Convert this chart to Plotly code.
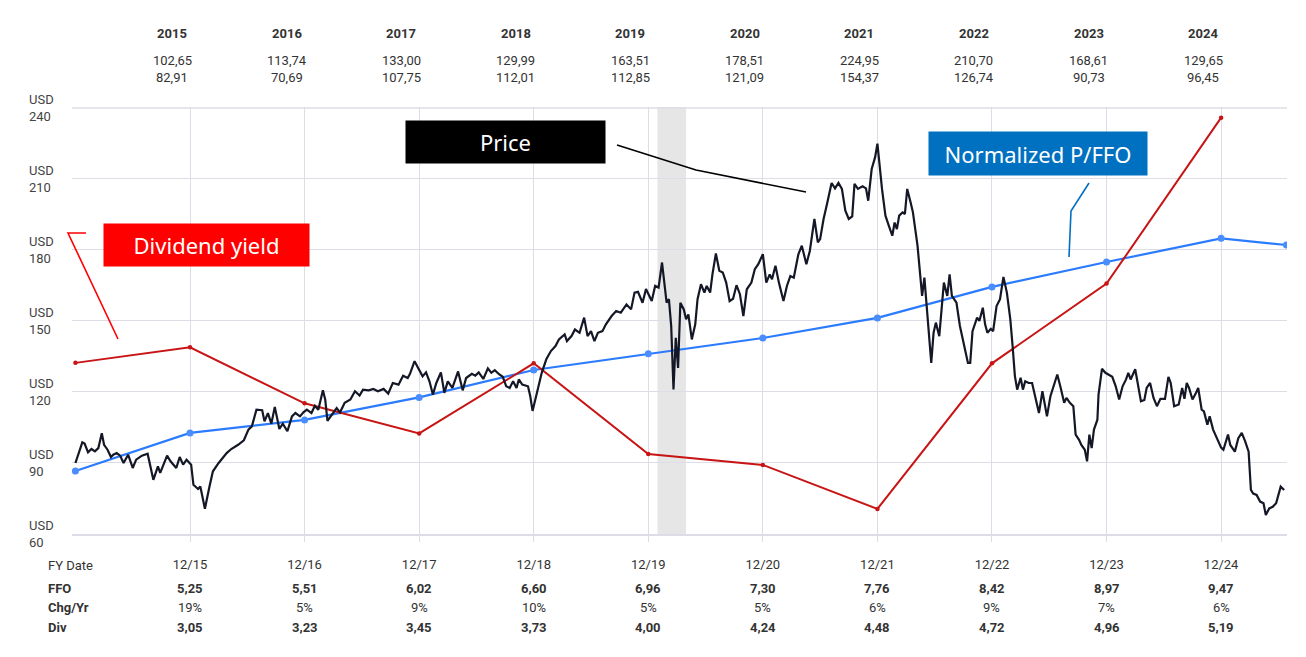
import plotly.graph_objects as go

# fiscal year columns
years = ['2015', '2016', '2017', '2018', '2019', '2020', '2021', '2022', '2023', '2024']
fy_dates = ['12/15', '12/16', '12/17', '12/18', '12/19', '12/20', '12/21', '12/22', '12/23', '12/24']
fy_end = [2016, 2017, 2018, 2019, 2020, 2021, 2022, 2023, 2024, 2025]
year_high = ['102,65', '113,74', '133,00', '129,99', '163,51', '178,51', '224,95', '210,70', '168,61', '129,65']
year_low = ['82,91', '70,69', '107,75', '112,01', '112,85', '121,09', '154,37', '126,74', '90,73', '96,45']
ffo = ['5,25', '5,51', '6,02', '6,60', '6,96', '7,30', '7,76', '8,42', '8,97', '9,47']
chg_yr = ['19%', '5%', '9%', '10%', '5%', '5%', '6%', '9%', '7%', '6%']
div = ['3,05', '3,23', '3,45', '3,73', '4,00', '4,24', '4,48', '4,72', '4,96', '5,19']

# normalized P/FFO line (USD)
pffo_t = [2015, 2016, 2017, 2018, 2019, 2020, 2021, 2022, 2023, 2024, 2025, 2025.57]
pffo_v = [86.6, 102.7, 108.2, 117.7, 129.3, 136.1, 142.8, 151.3, 164.4, 174.9, 184.9, 182.1]

# dividend yield line (scaled to price axis)
dy_t = [2015, 2016, 2017, 2018, 2019, 2020, 2021, 2022, 2023, 2024, 2025]
dy_v = [132.3, 138.9, 115.2, 102.5, 132.1, 93.8, 89.2, 70.6, 132.1, 165.8, 235.9]

# shaded recession period
recession = [2020.08, 2020.33]

# share price (decimal year, USD)
price = [
    (2015.00, 90.0), (2015.03, 94.2), (2015.06, 98.7), (2015.08, 98.2), (2015.11, 94.5),
    (2015.14, 95.9), (2015.17, 94.9), (2015.20, 96.3), (2015.23, 102.6), (2015.25, 97.7),
    (2015.28, 95.6), (2015.31, 92.5), (2015.33, 93.5), (2015.36, 94.2), (2015.39, 93.1),
    (2015.42, 90.0), (2015.46, 93.5), (2015.50, 87.9), (2015.53, 91.4), (2015.58, 93.1),
    (2015.63, 93.9), (2015.68, 82.9), (2015.72, 88.6), (2015.74, 85.8), (2015.80, 93.1),
    (2015.83, 90.7), (2015.88, 87.9), (2015.91, 92.5), (2015.94, 89.3), (2015.97, 91.4),
    (2016.01, 89.3), (2016.03, 80.8), (2016.07, 79.0), (2016.09, 80.1), (2016.13, 70.7),
    (2016.17, 80.1), (2016.20, 86.5), (2016.25, 90.0), (2016.29, 92.5), (2016.32, 94.2),
    (2016.36, 95.9), (2016.42, 97.7), (2016.47, 99.6), (2016.51, 104.1), (2016.54, 105.5),
    (2016.58, 112.5), (2016.63, 112.3), (2016.65, 107.6), (2016.68, 111.1), (2016.71, 106.6),
    (2016.74, 113.7), (2016.78, 104.4), (2016.81, 106.6), (2016.85, 103.4), (2016.89, 109.7),
    (2016.92, 111.1), (2016.96, 109.7), (2016.99, 111.4), (2017.02, 112.5), (2017.06, 111.1),
    (2017.09, 114.2), (2017.12, 112.5), (2017.16, 120.7), (2017.18, 116.8), (2017.20, 107.8),
    (2017.24, 110.4), (2017.28, 113.2), (2017.31, 111.4), (2017.35, 115.4), (2017.40, 116.8),
    (2017.44, 120.3), (2017.48, 118.5), (2017.51, 121.0), (2017.56, 120.7), (2017.60, 121.3),
    (2017.64, 120.3), (2017.69, 121.3), (2017.73, 119.3), (2017.77, 123.8), (2017.82, 123.1),
    (2017.86, 126.9), (2017.90, 125.9), (2017.92, 127.7), (2017.96, 133.0), (2017.99, 130.1),
    (2018.03, 126.6), (2018.06, 128.3), (2018.09, 124.5), (2018.12, 118.9), (2018.15, 123.8),
    (2018.19, 128.3), (2018.22, 119.6), (2018.25, 124.5), (2018.29, 121.7), (2018.34, 128.7),
    (2018.38, 120.7), (2018.41, 125.9), (2018.46, 127.7), (2018.49, 126.9), (2018.52, 128.3),
    (2018.56, 125.5), (2018.60, 130.0), (2018.63, 128.1), (2018.66, 129.2), (2018.70, 127.4),
    (2018.73, 126.4), (2018.76, 122.4), (2018.79, 121.7), (2018.82, 124.5), (2018.85, 121.7),
    (2018.87, 125.3), (2018.90, 123.1), (2018.95, 122.4), (2018.97, 118.2), (2018.99, 112.0),
    (2019.03, 120.0), (2019.07, 128.1), (2019.11, 133.8), (2019.15, 137.3), (2019.19, 139.4),
    (2019.22, 142.2), (2019.27, 144.3), (2019.29, 141.5), (2019.33, 143.6), (2019.36, 146.4),
    (2019.40, 145.0), (2019.44, 151.4), (2019.47, 143.6), (2019.50, 145.7), (2019.53, 141.5),
    (2019.56, 145.0), (2019.60, 145.7), (2019.63, 148.6), (2019.68, 152.1), (2019.72, 154.2),
    (2019.76, 153.5), (2019.81, 157.0), (2019.85, 154.9), (2019.88, 162.0), (2019.91, 162.3),
    (2019.95, 157.7), (2019.98, 163.5), (2020.03, 158.4), (2020.06, 164.8), (2020.09, 164.1),
    (2020.12, 174.7), (2020.16, 157.7), (2020.18, 159.2), (2020.20, 147.9), (2020.22, 121.1),
    (2020.24, 142.9), (2020.26, 130.2), (2020.28, 157.7), (2020.31, 154.9), (2020.33, 150.7),
    (2020.35, 152.8), (2020.38, 142.2), (2020.41, 148.6), (2020.43, 159.2), (2020.46, 165.5),
    (2020.49, 162.0), (2020.51, 164.8), (2020.54, 162.0), (2020.56, 169.7), (2020.59, 178.5),
    (2020.62, 171.2), (2020.65, 170.5), (2020.68, 166.2), (2020.71, 158.4), (2020.74, 159.4),
    (2020.77, 165.1), (2020.80, 161.3), (2020.83, 152.1), (2020.86, 163.4), (2020.90, 166.2),
    (2020.93, 171.9), (2020.96, 174.0), (2021.00, 178.2), (2021.03, 166.2), (2021.06, 169.7),
    (2021.08, 167.6), (2021.11, 173.3), (2021.14, 166.2), (2021.18, 158.4), (2021.21, 164.8),
    (2021.24, 169.0), (2021.27, 168.3), (2021.31, 178.2), (2021.34, 181.8), (2021.38, 174.0),
    (2021.41, 179.6), (2021.45, 193.1), (2021.48, 183.2), (2021.50, 184.6), (2021.53, 193.1),
    (2021.56, 199.4), (2021.60, 208.3), (2021.63, 206.0), (2021.66, 208.3), (2021.69, 205.8),
    (2021.72, 196.6), (2021.75, 193.1), (2021.78, 194.2), (2021.80, 207.9), (2021.83, 205.8),
    (2021.87, 206.9), (2021.90, 206.0), (2021.92, 200.8), (2021.95, 214.2), (2021.98, 219.2),
    (2022.00, 224.9), (2022.04, 205.8), (2022.07, 194.5), (2022.10, 190.2), (2022.13, 186.0),
    (2022.15, 191.6), (2022.17, 188.8), (2022.19, 194.5), (2022.22, 195.9), (2022.24, 195.2),
    (2022.26, 205.8), (2022.29, 200.1), (2022.31, 195.9), (2022.35, 181.8), (2022.37, 171.9),
    (2022.39, 160.6), (2022.41, 168.3), (2022.43, 156.3), (2022.45, 147.9), (2022.47, 132.3),
    (2022.49, 145.0), (2022.51, 149.3), (2022.54, 143.6), (2022.56, 156.3), (2022.58, 166.2),
    (2022.61, 160.6), (2022.63, 169.7), (2022.65, 160.6), (2022.67, 159.2), (2022.69, 157.7),
    (2022.72, 147.9), (2022.75, 140.8), (2022.79, 132.3), (2022.81, 132.3), (2022.83, 145.7),
    (2022.87, 151.4), (2022.89, 150.0), (2022.92, 155.6), (2022.94, 148.6), (2022.96, 145.0),
    (2022.99, 146.7), (2023.01, 145.7), (2023.04, 156.3), (2023.07, 159.2), (2023.10, 168.6),
    (2023.13, 162.0), (2023.16, 150.7), (2023.18, 139.4), (2023.20, 126.7), (2023.22, 121.0),
    (2023.25, 126.0), (2023.27, 121.0), (2023.29, 124.5), (2023.32, 123.8), (2023.35, 123.8),
    (2023.38, 117.5), (2023.41, 111.1), (2023.44, 120.3), (2023.46, 115.4), (2023.48, 109.7),
    (2023.51, 118.2), (2023.54, 122.4), (2023.57, 127.4), (2023.60, 121.7), (2023.63, 115.4),
    (2023.65, 117.5), (2023.68, 115.4), (2023.71, 114.0), (2023.73, 102.0), (2023.76, 99.8),
    (2023.78, 97.6), (2023.81, 95.6), (2023.83, 90.7), (2023.85, 102.0), (2023.87, 96.3),
    (2023.89, 104.1), (2023.92, 108.3), (2023.93, 118.9), (2023.96, 129.8), (2023.99, 128.1),
    (2024.02, 127.4), (2024.05, 126.4), (2024.08, 122.4), (2024.11, 116.8), (2024.14, 122.4),
    (2024.17, 125.3), (2024.19, 128.1), (2024.21, 125.3), (2024.25, 129.6), (2024.28, 122.4),
    (2024.30, 116.1), (2024.33, 116.6), (2024.35, 121.7), (2024.38, 123.8), (2024.41, 117.5),
    (2024.44, 114.0), (2024.47, 117.1), (2024.51, 117.1), (2024.54, 126.4), (2024.56, 123.8),
    (2024.59, 114.0), (2024.63, 114.7), (2024.66, 121.7), (2024.68, 117.1), (2024.70, 123.8),
    (2024.72, 121.7), (2024.75, 116.8), (2024.78, 119.6), (2024.80, 121.7), (2024.83, 112.5),
    (2024.85, 111.8), (2024.88, 106.2), (2024.90, 109.7), (2024.93, 104.1), (2024.97, 99.8),
    (2025.00, 96.5), (2025.02, 95.6), (2025.06, 102.0), (2025.08, 97.6), (2025.12, 94.8),
    (2025.15, 100.5), (2025.18, 102.7), (2025.21, 99.1), (2025.24, 94.8), (2025.26, 78.6),
    (2025.28, 77.1), (2025.31, 76.5), (2025.34, 73.7), (2025.37, 73.0), (2025.39, 68.0),
    (2025.42, 70.8), (2025.45, 71.5), (2025.48, 73.0), (2025.50, 76.5), (2025.52, 80.0),
    (2025.55, 78.6),
]
price_t = [p[0] for p in price]
price_v = [p[1] for p in price]

y_ticks = [60, 90, 120, 150, 180, 210, 240]

# the page puts the figure 8px in from the top-left corner
OFF = 8
W, H = 1306 - OFF, 657 - OFF
L, R, T, B = 72 - OFF, 19, 107 - OFF, 123


# screen pixel -> paper coordinates (for text rows and callouts)
def px(x):
    return (x - OFF - L) / (W - L - R)


def py(y):
    return (H - B - (y - OFF)) / (H - T - B)


grid = '#dcdde6'
txt = '#333333'
narrow = 'Liberation Sans Narrow, Roboto, sans-serif'

fig = go.Figure()
fig.add_trace(go.Scatter(x=pffo_t, y=pffo_v, mode='lines+markers',
                         line=dict(color='#2b7bff', width=2.2),
                         marker=dict(size=7, color='#4a8dff'), hoverinfo='skip'))
fig.add_trace(go.Scatter(x=dy_t, y=dy_v, mode='lines+markers',
                         line=dict(color='#c81414', width=2),
                         marker=dict(size=4.5, color='#c81414'), hoverinfo='skip'))
fig.add_trace(go.Scatter(x=price_t, y=price_v, mode='lines',
                         line=dict(color='#141826', width=2.2), hoverinfo='skip'))

fig.add_vrect(x0=recession[0], x1=recession[1], fillcolor='#e6e6e6', opacity=1,
              line_width=0, layer='below')
# top gridline (USD 240) sits on the plot edge, draw it explicitly
fig.add_hline(y=y_ticks[-1], line_color=grid, line_width=1.5, layer='below')

ann = []
# header: year, high, low
for t, yr, hi, lo in zip(fy_end, years, year_high, year_low):
    ann.append(dict(x=t, xshift=-18, y=py(33), text='<b>' + yr + '</b>', font=dict(size=13)))
    ann.append(dict(x=t, xshift=-18, y=py(60), text=hi, font=dict(size=13)))
    ann.append(dict(x=t, xshift=-18, y=py(78), text=lo, font=dict(size=13)))
# bottom table
for t, f, c, d in zip(fy_end, ffo, chg_yr, div):
    ann.append(dict(x=t, y=py(588), text='<b>' + f + '</b>', font=dict(size=13)))
    ann.append(dict(x=t, y=py(607), text=c, font=dict(size=13)))
    ann.append(dict(x=t, y=py(627), text='<b>' + d + '</b>', font=dict(size=13)))
for a in ann:
    a.update(xref='x', yref='paper', showarrow=False, xanchor='center', yanchor='middle')
    a['font'].update(family=narrow, color=txt)

for label, ypos, bold in [('FY Date', 565, False), ('FFO', 588, True),
                          ('Chg/Yr', 607, True), ('Div', 627, True)]:
    ann.append(dict(xref='paper', yref='paper', x=px(46), y=py(ypos), xanchor='left',
                    yanchor='middle', showarrow=False,
                    text=('<b>' + label + '</b>') if bold else label,
                    font=dict(family=narrow, size=13, color=txt)))

# y axis labels "USD / value", left aligned
for v in y_ticks:
    ann.append(dict(xref='paper', yref='y', x=px(27), y=v, xanchor='left', yanchor='middle',
                    align='left', showarrow=False, text='USD<br>' + str(v),
                    font=dict(family=narrow, size=13, color='#444444')))

# callout boxes
for text, cx, cy, w, h, bg in [('Dividend yield', 206.5, 245, 205, 42, '#ff0000'),
                               ('Price', 505.5, 142, 199, 42, '#000000'),
                               ('Normalized P/FFO', 1038, 153.5, 218, 43, '#0070c0')]:
    ann.append(dict(xref='paper', yref='paper', x=px(cx), y=py(cy), xanchor='center',
                    yanchor='middle', showarrow=False, text=text, width=w, height=h,
                    bgcolor=bg, borderpad=0,
                    font=dict(family='Noto Sans, Open Sans, sans-serif', size=22, color='white')))

fig.update_layout(annotations=ann)


def leader(points, color):
    path = 'M ' + ' L '.join('%.5f %.5f' % (px(a), py(b)) for a, b in points)
    fig.add_shape(type='path', path=path, xref='paper', yref='paper',
                  line=dict(color=color, width=1.6))


leader([(118, 339), (68, 233), (86, 233)], '#ff0000')
leader([(617, 145), (696, 170), (806, 192)], '#000000')
leader([(1069, 257), (1071, 211), (1089, 183)], '#0070c0')

fig.update_xaxes(range=[2014.97, 2025.575], tickvals=fy_end, ticktext=fy_dates,
                 showgrid=True, gridcolor=grid, gridwidth=1, zeroline=False,
                 showline=True, linecolor=grid, linewidth=1.5,
                 ticks='outside', ticklen=6, tickcolor=grid, ticklabelstandoff=12,
                 tickfont=dict(family=narrow, size=13, color=txt))
fig.update_yaxes(range=[60, 240.4], tickvals=y_ticks, showticklabels=False,
                 showgrid=True, gridcolor=grid, gridwidth=1, zeroline=False)

fig.update_layout(width=W, height=H, margin=dict(l=L, r=R, t=T, b=B),
                  paper_bgcolor='white', plot_bgcolor='white', showlegend=False)

fig.write_html("out.html")
